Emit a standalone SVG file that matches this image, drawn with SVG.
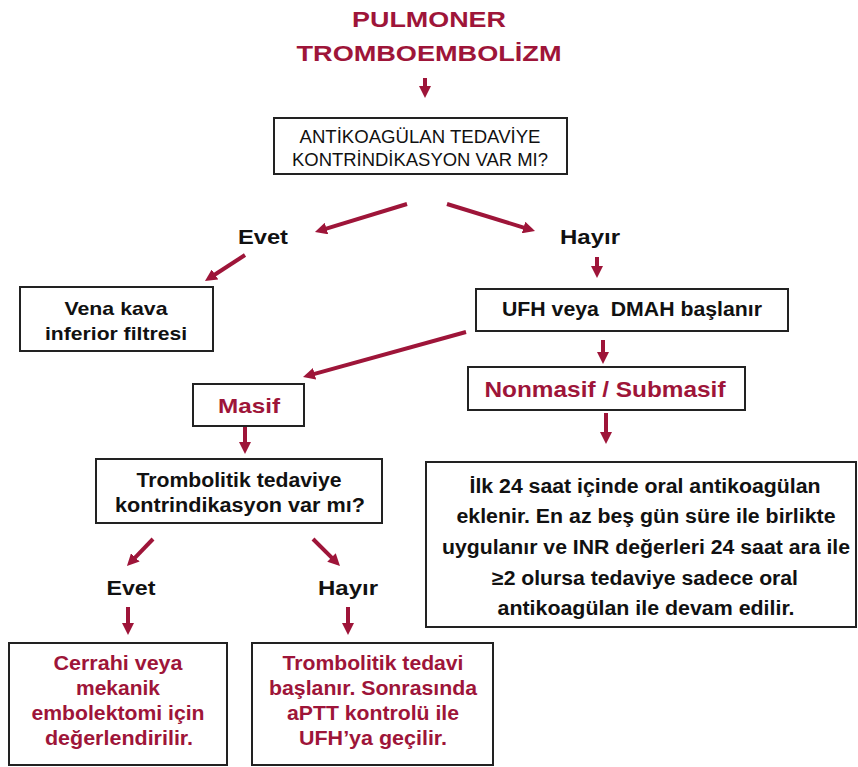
<svg xmlns="http://www.w3.org/2000/svg" width="858" height="767" viewBox="0 0 858 767">
<style>
text{font-family:"Liberation Sans",Arial,sans-serif;text-anchor:middle;font-weight:bold;fill:#111}
.red{fill:#9e1539}
.reg{font-weight:normal}
.box{fill:#fff;stroke:#222;stroke-width:2}
.conn line{stroke:#9e1539;stroke-width:4}
</style>
<defs>
<marker id="ah" viewBox="0 0 12 12" refX="1" refY="6" markerWidth="12" markerHeight="12" markerUnits="userSpaceOnUse" orient="auto">
<path d="M0,0 L12,6 L0,12 z" fill="#9e1539"/>
</marker>
</defs>
<rect width="858" height="767" fill="#fff"/>
<g id="title">
<text x="429" y="27" class="red" font-size="22" textLength="154" lengthAdjust="spacingAndGlyphs">PULMONER</text>
<text x="429" y="61" class="red" font-size="22" textLength="265" lengthAdjust="spacingAndGlyphs">TROMBOEMBOLİZM</text>
</g>
<g id="n1">
<rect class="box" x="274" y="118" width="293" height="56"/>
<text x="420" y="143" class="reg" font-size="18" textLength="241" lengthAdjust="spacingAndGlyphs">ANTİKOAGÜLAN TEDAVİYE</text>
<text x="420" y="166" class="reg" font-size="18" textLength="256" lengthAdjust="spacingAndGlyphs">KONTRİNDİKASYON VAR MI?</text>
</g>
<g id="evet1"><text x="263" y="244" font-size="21" textLength="50" lengthAdjust="spacingAndGlyphs">Evet</text></g>
<g id="hayir1"><text x="590" y="244" font-size="21" textLength="60" lengthAdjust="spacingAndGlyphs">Hayır</text></g>
<g id="vena">
<rect class="box" x="20" y="287" width="193" height="64"/>
<text x="116" y="315" font-size="19" textLength="103" lengthAdjust="spacingAndGlyphs">Vena kava</text>
<text x="116" y="340" font-size="19" textLength="142" lengthAdjust="spacingAndGlyphs">inferior filtresi</text>
</g>
<g id="ufh">
<rect class="box" x="476" y="289" width="312" height="42"/>
<text x="632" y="316" font-size="20" textLength="260" lengthAdjust="spacingAndGlyphs">UFH veya&#160; DMAH başlanır</text>
</g>
<g id="masif">
<rect class="box" x="193" y="384" width="111" height="42"/>
<text x="249" y="413" class="red" font-size="21" textLength="62" lengthAdjust="spacingAndGlyphs">Masif</text>
</g>
<g id="nonmasif">
<rect class="box" x="468" y="367" width="277" height="43"/>
<text x="605" y="397" class="red" font-size="22" textLength="241" lengthAdjust="spacingAndGlyphs">Nonmasif / Submasif</text>
</g>
<g id="tromb">
<rect class="box" x="96" y="459" width="286" height="64"/>
<text x="239" y="487" font-size="20" textLength="205" lengthAdjust="spacingAndGlyphs">Trombolitik tedaviye</text>
<text x="240" y="512" font-size="20" textLength="250" lengthAdjust="spacingAndGlyphs">kontrindikasyon var mı?</text>
</g>
<g id="oral">
<rect class="box" x="426" y="462" width="430" height="165"/>
<text x="645" y="493" font-size="20" textLength="351" lengthAdjust="spacingAndGlyphs">İlk 24 saat içinde oral antikoagülan</text>
<text x="646" y="523" font-size="20" textLength="379" lengthAdjust="spacingAndGlyphs">eklenir. En az beş gün süre ile birlikte</text>
<text x="646" y="554" font-size="20" textLength="408" lengthAdjust="spacingAndGlyphs">uygulanır ve INR değerleri 24 saat ara ile</text>
<text x="645" y="585" font-size="20" textLength="306" lengthAdjust="spacingAndGlyphs">≥2 olursa tedaviye sadece oral</text>
<text x="646" y="615" font-size="20" textLength="297" lengthAdjust="spacingAndGlyphs">antikoagülan ile devam edilir.</text>
</g>
<g id="evet2"><text x="131" y="595" font-size="21" textLength="49" lengthAdjust="spacingAndGlyphs">Evet</text></g>
<g id="hayir2"><text x="348" y="595" font-size="21" textLength="60" lengthAdjust="spacingAndGlyphs">Hayır</text></g>
<g id="cerrahi">
<rect class="box" x="9" y="643" width="218" height="122"/>
<text x="118" y="670" class="red" font-size="20" textLength="129" lengthAdjust="spacingAndGlyphs">Cerrahi veya</text>
<text x="118" y="695" class="red" font-size="20" textLength="84" lengthAdjust="spacingAndGlyphs">mekanik</text>
<text x="118" y="720" class="red" font-size="20" textLength="173" lengthAdjust="spacingAndGlyphs">embolektomi için</text>
<text x="119" y="745" class="red" font-size="20" textLength="148" lengthAdjust="spacingAndGlyphs">değerlendirilir.</text>
</g>
<g id="trombtedavi">
<rect class="box" x="252" y="643" width="241" height="122"/>
<text x="373" y="670" class="red" font-size="20" textLength="181" lengthAdjust="spacingAndGlyphs">Trombolitik tedavi</text>
<text x="373" y="695" class="red" font-size="20" textLength="208" lengthAdjust="spacingAndGlyphs">başlanır. Sonrasında</text>
<text x="373" y="720" class="red" font-size="20" textLength="172" lengthAdjust="spacingAndGlyphs">aPTT kontrolü ile</text>
<text x="373" y="745" class="red" font-size="20" textLength="148" lengthAdjust="spacingAndGlyphs">UFH’ya geçilir.</text>
</g>
<g class="conn" id="connectors">
<line x1="425" y1="78" x2="425" y2="87" marker-end="url(#ah)"/>
<line x1="407" y1="204" x2="325.5" y2="228.8" marker-end="url(#ah)"/>
<line x1="447" y1="204" x2="524.5" y2="227.8" marker-end="url(#ah)"/>
<line x1="245" y1="255" x2="214.2" y2="275" marker-end="url(#ah)"/>
<line x1="597" y1="257" x2="597" y2="267" marker-end="url(#ah)"/>
<line x1="466" y1="332" x2="313.6" y2="374.1" marker-end="url(#ah)"/>
<line x1="603" y1="340" x2="603" y2="353" marker-end="url(#ah)"/>
<line x1="245" y1="427" x2="245" y2="443" marker-end="url(#ah)"/>
<line x1="606" y1="413" x2="606" y2="433" marker-end="url(#ah)"/>
<line x1="153" y1="539" x2="134.6" y2="558.1" marker-end="url(#ah)"/>
<line x1="313" y1="539" x2="332.2" y2="558.2" marker-end="url(#ah)"/>
<line x1="128" y1="607" x2="128" y2="624" marker-end="url(#ah)"/>
<line x1="348" y1="607" x2="348" y2="624" marker-end="url(#ah)"/>
</g>
</svg>
